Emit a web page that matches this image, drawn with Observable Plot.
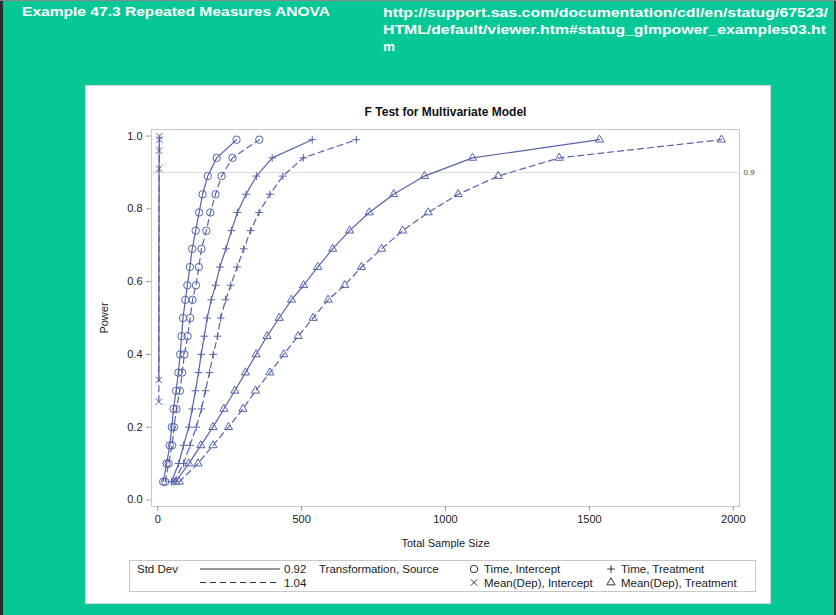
<!DOCTYPE html>
<html>
<head>
<meta charset="utf-8">
<script src="https://cdn.jsdelivr.net/npm/d3@7"></script>
<script src="https://cdn.jsdelivr.net/npm/@observablehq/plot@0.6"></script>
<style>
html, body { margin: 0; padding: 0; }
body { width: 836px; height: 615px; background: #06c796; position: relative; overflow: hidden; font-family: "Liberation Sans", Arial, sans-serif; }
#edgeL { position: absolute; left: 0; top: 0; width: 3px; height: 615px; background: #2a2a2a; }
#edgeR { position: absolute; right: 0; top: 0; width: 2px; height: 615px; background: #3a3a3a; }
#edgeT { position: absolute; left: 0; top: 0; width: 836px; height: 1px; background: #8a8a8a; }
#panel { position: absolute; left: 86px; top: 86px; width: 684px; height: 517px; background: #fff; box-shadow: 0 0 0 1px #d6d6d6; }
#deco { position: absolute; left: 0; top: 0; }
#chart { position: absolute; left: 0; top: 0; }
</style>
</head>
<body>
<div id="edgeL"></div><div id="edgeR"></div><div id="edgeT"></div>
<div id="panel"></div>
<div id="chart"></div>
<svg id="deco" width="836" height="615"></svg>
<script>
// ---------------- data ----------------
const headerTitle = "Example 47.3 Repeated Measures ANOVA";
const headerUrl = ["http://support.sas.com/documentation/cdl/en/statug/67523/",
                   "HTML/default/viewer.htm#statug_glmpower_examples03.ht",
                   "m"];
const chartTitle = "F Test for Multivariate Model";
const xLabel = "Total Sample Size";
const yLabel = "Power";
const xTickValues = [0, 500, 1000, 1500, 2000];
const yTickValues = [0.0, 0.2, 0.4, 0.6, 0.8, 1.0];
const refPower = 0.9;
const stdDevs = ["0.92", "1.04"];
const sources = ["Time, Intercept", "Mean(Dep), Intercept", "Time, Treatment", "Mean(Dep), Treatment"];

const powerLevels = [0.05, 0.10, 0.15, 0.20, 0.25, 0.30, 0.35, 0.40, 0.45, 0.50, 0.55, 0.59, 0.64, 0.69, 0.74, 0.79, 0.84, 0.89, 0.94, 0.99];

const timeInterceptN092 = [19, 31, 42, 49, 55, 64, 72, 78, 83, 88, 96, 103, 112, 120, 132, 144, 156, 174, 205, 274];
const timeInterceptN104 = [26, 38, 50, 57, 65, 77, 85, 93, 104, 113, 121, 133, 143, 152, 169, 183, 201, 222, 260, 353];

const timeTreatmentN092 = [48, 73, 90, 108, 120, 131, 142, 151, 162, 172, 186, 201, 216, 237, 256, 277, 307, 343, 398, 537];
const timeTreatmentN104 = [57, 90, 112, 134, 152, 166, 180, 193, 208, 219, 236, 254, 276, 299, 323, 352, 390, 435, 506, 690];

const meanDepTreatmentN092 = [62, 108, 150, 192, 230, 268, 305, 342, 380, 422, 465, 507, 556, 608, 667, 735, 820, 927, 1094, 1535];
const meanDepTreatmentN104 = [75, 140, 192, 246, 296, 340, 390, 438, 488, 540, 592, 650, 708, 778, 851, 940, 1044, 1183, 1395, 1959];

const meanDepInterceptN = [4, 5, 6];
const meanDepInterceptPower092 = [0.33, 0.96, 1.00];
const meanDepInterceptPower104 = [0.27, 0.91, 0.99];

// ---------------- table ----------------
const rows = [];
function addSeries(source, sd, ns, ps) {
  ns.forEach((n, i) => rows.push({source, sd, n, power: ps[i]}));
}
addSeries(sources[0], stdDevs[0], timeInterceptN092, powerLevels);
addSeries(sources[0], stdDevs[1], timeInterceptN104, powerLevels);
addSeries(sources[1], stdDevs[0], meanDepInterceptN, meanDepInterceptPower092);
addSeries(sources[1], stdDevs[1], meanDepInterceptN, meanDepInterceptPower104);
addSeries(sources[2], stdDevs[0], timeTreatmentN092, powerLevels);
addSeries(sources[2], stdDevs[1], timeTreatmentN104, powerLevels);
addSeries(sources[3], stdDevs[0], meanDepTreatmentN092, powerLevels);
addSeries(sources[3], stdDevs[1], meanDepTreatmentN104, powerLevels);

const ink = "#5464ac";
const symbolRange = [d3.symbolCircle, d3.symbolTimes, d3.symbolPlus, d3.symbolTriangle2];
const symbolRadius = [3.7, 3.0, 2.6, 3.9];

const dotMarks = sources.map((s, i) =>
  Plot.dot(rows.filter(d => d.source === s), {x: "n", y: "power", symbol: "source", stroke: ink, fill: "none", r: symbolRadius[i], strokeWidth: 1})
);

const chart = Plot.plot({
  width: 836,
  height: 615,
  marginLeft: 151,
  marginRight: 97,
  marginTop: 129,
  marginBottom: 109,
  style: {background: "transparent", fontFamily: "'Liberation Sans', Arial, sans-serif", fontSize: "11px", color: "#222"},
  x: {domain: [-21.5, 2021.6]},
  y: {domain: [-0.018, 1.018]},
  symbol: {domain: sources, range: symbolRange},
  marks: [
    Plot.ruleY([refPower], {stroke: "#dcdcdc", strokeWidth: 1}),
    Plot.frame({stroke: "#c8c8c8"}),
    Plot.axisX({ticks: xTickValues, tickFormat: d => String(d), tickSize: 5, tickPadding: 4, stroke: "#9a9a9a", fill: "#222", fontSize: 11,
      label: xLabel, labelAnchor: "center", labelOffset: 40, labelArrow: "none"}),
    Plot.axisY({ticks: yTickValues, tickFormat: d => d.toFixed(1), tickSize: 5, tickPadding: 4, stroke: "#9a9a9a", fill: "#222", fontSize: 11,
      label: yLabel, labelAnchor: "center", labelOffset: 51, labelArrow: "none"}),
    Plot.text([refPower], {y: d => d, frameAnchor: "right", textAnchor: "start", dx: 4, text: d => d.toFixed(1), fontSize: 8, fill: "#444"}),
    Plot.text([chartTitle], {frameAnchor: "top", dy: -17, lineAnchor: "middle", text: d => d, fontSize: 12, fontWeight: "bold", fill: "#111"}),
    Plot.line(rows.filter(d => d.sd === stdDevs[0]), {x: "n", y: "power", z: "source", stroke: ink, strokeWidth: 1.2}),
    Plot.line(rows.filter(d => d.sd === stdDevs[1]), {x: "n", y: "power", z: "source", stroke: ink, strokeWidth: 1.2, strokeDasharray: "6,4"}),
    ...dotMarks
  ]
});
document.getElementById("chart").appendChild(chart);

// ---------------- header and legend (decoration) ----------------
const deco = d3.select("#deco");
const ff = "'Liberation Sans', Arial, sans-serif";
deco.append("text").attr("x", 22).attr("y", 16).attr("fill", "#fff").attr("font-family", ff)
  .attr("font-weight", "bold").attr("font-size", 13.5).attr("textLength", 308).attr("lengthAdjust", "spacingAndGlyphs").text(headerTitle);
const urlLens = [445, 443, null];
headerUrl.forEach((t, i) => {
  const el = deco.append("text").attr("x", 383).attr("y", 17 + i * 17).attr("fill", "#fff").attr("font-family", ff)
    .attr("font-weight", "bold").attr("font-size", 13.5).text(t);
  if (urlLens[i]) el.attr("textLength", urlLens[i]).attr("lengthAdjust", "spacingAndGlyphs");
});

const lg = deco.append("g").attr("font-family", ff).attr("font-size", 11.5).attr("fill", "#222");
lg.append("rect").attr("x", 129.5).attr("y", 560.5).attr("width", 626).attr("height", 31).attr("fill", "#fff").attr("stroke", "#c8c8c8");
const r1 = 569, r2 = 582.5;
lg.append("text").attr("x", 137).attr("y", r1 + 4).text("Std Dev");
lg.append("line").attr("x1", 200).attr("x2", 280).attr("y1", r1).attr("y2", r1).attr("stroke", "#333").attr("stroke-width", 1);
lg.append("line").attr("x1", 200).attr("x2", 280).attr("y1", r2).attr("y2", r2).attr("stroke", "#333").attr("stroke-width", 1).attr("stroke-dasharray", "6,4");
lg.append("text").attr("x", 284).attr("y", r1 + 4).text(stdDevs[0]);
lg.append("text").attr("x", 284).attr("y", r2 + 4).text(stdDevs[1]);
lg.append("text").attr("x", 319).attr("y", r1 + 4).text("Transformation, Source");
const legendPos = [[474, r1], [474, r2], [611, r1], [611, r2]];
sources.forEach((s, i) => {
  const [x, y] = legendPos[i];
  lg.append("path").attr("d", d3.symbol(symbolRange[i], symbolRadius[i] * symbolRadius[i] * Math.PI)()).attr("transform", `translate(${x},${y})`)
    .attr("fill", "none").attr("stroke", "#333").attr("stroke-width", 1);
  lg.append("text").attr("x", x + 10).attr("y", y + 4).text(s);
});
</script>
</body>
</html>
